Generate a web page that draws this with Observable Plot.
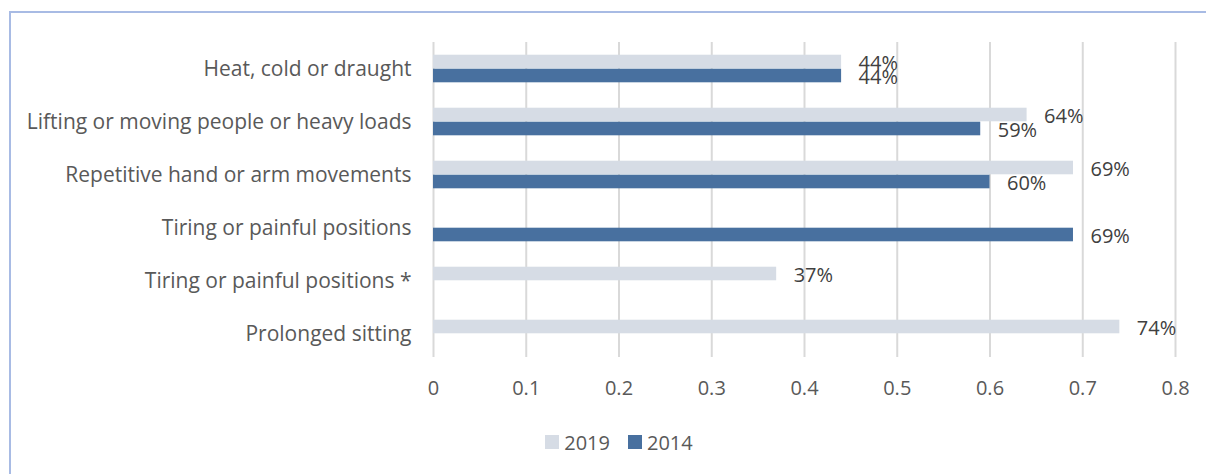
<!DOCTYPE html>
<html>
<head>
<meta charset="utf-8">
<script src="https://cdn.jsdelivr.net/npm/d3@7"></script>
<script src="https://cdn.jsdelivr.net/npm/@observablehq/plot@0.6"></script>
<style>
  html, body { margin: 0; padding: 0; background: #fff; overflow: hidden; }
  body { width: 1206px; height: 474px; position: relative; }
  #frame { position: absolute; left: 9px; top: 11px; width: 1300px; height: 600px;
           border-left: 2px solid #a8bbe4; border-top: 2px solid #a8bbe4; box-sizing: border-box; }
  #chart { position: absolute; left: 0; top: 0; width: 1206px; }
  #chart svg g[aria-label="y-axis tick label"] text { font-size: 21px; }
  #legend { display: flex; justify-content: center; align-items: center; gap: 18px;
            padding-left: 32px; margin-top: 20px; height: 24px;
            font-family: "Open Sans", sans-serif; font-size: 20px; color: #595959; }
  #legend .item { display: flex; align-items: center; gap: 5px; }
  #legend .sw { width: 14px; height: 14px; display: inline-block; }
</style>
</head>
<body>
<div id="frame"></div>
<div id="chart"></div>
<script>
const categories = [
  "Heat, cold or draught",
  "Lifting or moving people or heavy loads",
  "Repetitive hand or arm movements",
  "Tiring or painful positions",
  "Tiring or painful positions *",
  "Prolonged sitting"
];
const years = ["2019", "2014"];
const values2019 = [0.44, 0.64, 0.69, null, 0.37, 0.74];
const values2014 = [0.44, 0.59, 0.60, 0.69, null, null];
const xTicks = [0, 0.1, 0.2, 0.3, 0.4, 0.5, 0.6, 0.7, 0.8];
const colors = ["#d6dce5", "#48709f"];

const d2019 = categories.map((c, i) => ({category: c, year: "2019", value: values2019[i]})).filter(d => d.value != null);
const d2014 = categories.map((c, i) => ({category: c, year: "2014", value: values2014[i]})).filter(d => d.value != null);
const pct = d => Math.round(d.value * 100) + "%";

const chart = Plot.plot({
  width: 1206,
  height: 410,
  marginLeft: 433,
  marginRight: 31,
  marginTop: 41,
  marginBottom: 49,
  style: {fontFamily: "'Open Sans', sans-serif", fontSize: "20px", color: "#595959", background: "transparent"},
  x: {domain: [0, 0.8], ticks: xTicks, tickFormat: d => String(d), tickSize: 0, tickPadding: 19, label: null},
  y: {domain: categories, padding: 0, tickSize: 0, tickPadding: 22, label: null},
  color: {domain: years, range: colors},
  marks: [
    Plot.gridX(xTicks, {stroke: "#d9d9d9", strokeOpacity: 1, strokeWidth: 2, insetTop: 1, insetBottom: 4}),
    Plot.barX(d2019, {x: "value", y: "category", fill: "year", insetTop: 12.7, insetBottom: 26.7}),
    Plot.barX(d2014, {x: "value", y: "category", fill: "year", insetTop: 26.7, insetBottom: 12.7}),
    Plot.text(d2019, {x: "value", y: "category", text: pct, textAnchor: "start", dx: 17, dy: -5, fill: "#404040", fontSize: 20}),
    Plot.text(d2014, {x: "value", y: "category", text: pct, textAnchor: "start", dx: 17, dy: 8.5, fill: "#404040", fontSize: 20})
  ]
});
document.getElementById("chart").appendChild(chart);

const legend = document.createElement("div");
legend.id = "legend";
years.forEach((y, i) => {
  const item = document.createElement("span");
  item.className = "item";
  const sw = document.createElement("span");
  sw.className = "sw";
  sw.style.background = colors[i];
  const t = document.createElement("span");
  t.textContent = y;
  item.appendChild(sw);
  item.appendChild(t);
  legend.appendChild(item);
});
document.getElementById("chart").appendChild(legend);
</script>
</body>
</html>
